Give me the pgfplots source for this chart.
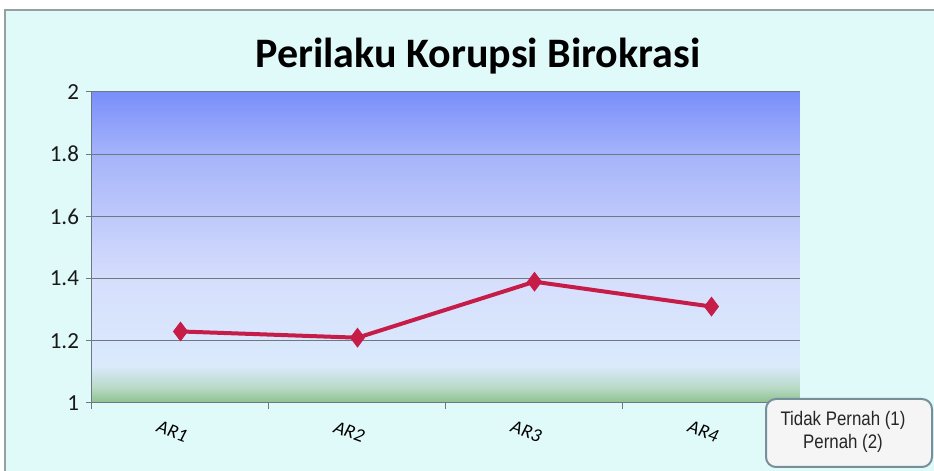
\documentclass[border=0pt]{standalone}
\usepackage{pgfplots}
\pgfplotsset{compat=1.18}
\usepackage{fontspec}
\setmainfont{Carlito}
\newfontfamily\arialn[FakeStretch=0.86]{Liberation Sans}
\definecolor{framebg}{RGB}{224,250,249}
\definecolor{framebd}{RGB}{150,160,160}
\definecolor{gA}{RGB}{140,192,140}
\definecolor{gB}{RGB}{185,218,200}
\definecolor{gC}{RGB}{218,234,252}
\definecolor{gD}{RGB}{214,222,252}
\definecolor{gE}{RGB}{165,180,250}
\definecolor{gF}{RGB}{122,142,250}
\definecolor{linec}{RGB}{198,28,72}
\definecolor{gridc}{RGB}{110,120,130}
\pgfdeclareverticalshading{plotbg}{100bp}{color(0bp)=(gA); color(25bp)=(gA); color(27.5bp)=(gB); color(31bp)=(gC); color(45bp)=(gD); color(65bp)=(gE); color(75bp)=(gF); color(100bp)=(gF)}
\begin{document}
\begin{tikzpicture}[x=1pt,y=1pt]
\useasboundingbox (0,0) rectangle (467,235.5);
\fill[white] (0,0) rectangle (467,235.5);
\fill[framebg] (2.5,-5) rectangle (475,230.5);
\draw[framebd,line width=0.8pt] (2.5,-5) -- (2.5,230.5) -- (475,230.5);
\node[font=\bfseries\fontsize{21}{24}\selectfont] at (239,207.5) {Perilaku Korupsi Birokrasi};
\begin{axis}[
  at={(46pt,34pt)}, anchor=south west,
  scale only axis, width=354pt, height=155.5pt,
  xmin=-0.5, xmax=3.5, ymin=1, ymax=2,
  axis background/.style={shading=plotbg},
  axis x line*=bottom, axis y line*=left,
  axis line style={draw=gridc, line width=0.5pt},
  xtick={0,1,2,3}, xticklabels={AR1,AR2,AR3,AR4},
  major x tick style={draw=none},
  minor xtick={-0.5,0.5,1.5,2.5,3.5},
  minor tick length=3pt,
  tick align=outside,
  major tick length=3pt,
  tick style={draw=gridc, line width=0.5pt},
  xticklabel style={font=\itshape\fontsize{9.5}{11}\selectfont, rotate=-20, anchor=center, yshift=-12pt},
  ytick={1,1.2,1.4,1.6,1.8,2},
  yticklabel style={font=\fontsize{11.5}{13}\selectfont, text=black!90},
  /pgf/number format/assume math mode=true,
  ymajorgrids, grid style={draw=gridc, line width=0.5pt},
  clip=false,
]
\addplot[linec, line width=2pt, mark=diamond*, mark size=4.6pt, mark options={fill=linec, draw=linec, line width=0.5pt}]
  coordinates {(0,1.23) (1,1.21) (2,1.39) (3,1.31)};
\end{axis}
\draw[rounded corners=5pt, draw=black!35!cyan!40!gray, line width=1pt, fill=gray!8] (383,2) rectangle (466,36);
\node[font=\arialn\fontsize{9.8}{11.5}\selectfont, align=center, text=black!85] at (421.5,19.5) {Tidak Pernah (1)\\Pernah (2)};
\end{tikzpicture}
\end{document}
